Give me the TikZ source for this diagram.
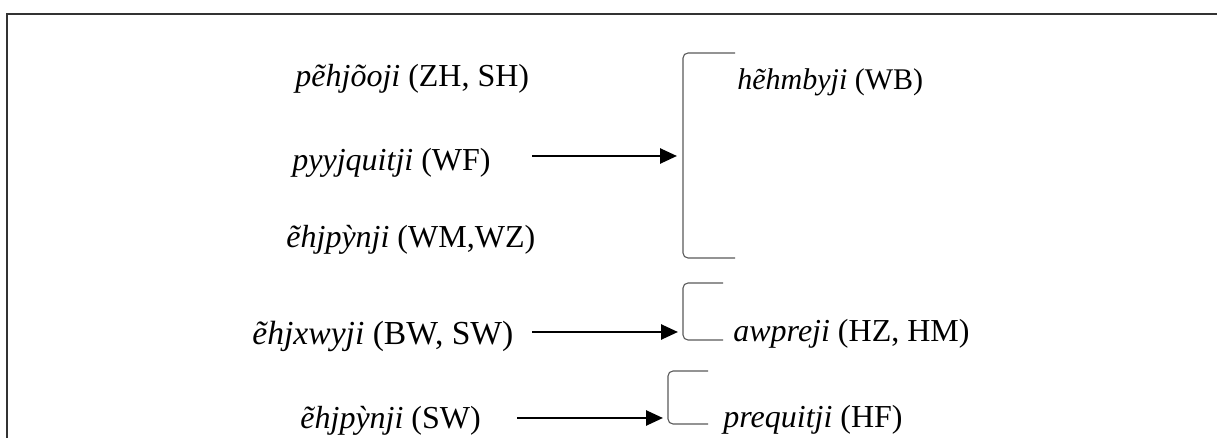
\documentclass[tikz,border=0pt]{standalone}
\usepackage{fontspec}
\setmainfont{Liberation Serif}
\usepackage{tikz}
\usetikzlibrary{positioning,arrows.meta}
\tikzset{
  >={Triangle[length=8.5pt,width=7.5pt]},
  term/.style={anchor=base west,inner sep=0pt,font=\fontsize{16}{19}\selectfont},
  maparr/.style={->,line width=1.3pt,black},
  brk/.style={line width=0.55pt,black!65,rounded corners=2.5pt},
  frameline/.style={line width=1pt,black!80},
}

\begin{document}
\begin{tikzpicture}[x=0.5pt,y=-0.5pt]
  \useasboundingbox (0,0) rectangle (1217,438);
  % frame edges
  \draw[frameline] (7,438) -- (7,14) -- (1217,14);

  % left column
  \node[term] (zh) at (295,87)  {\textit{pẽhjõoji} (ZH, SH)};
  \node[term] (wf) at (292,171) {\textit{pyyjquitji} (WF)};
  \node[term] (wm) at (286,248) {\textit{ẽhjpỳnji} (WM,WZ)};
  \node[term,font=\fontsize{16.8}{20}\selectfont] (bw) at (252,345) {\textit{ẽhjxwyji} (BW, SW)};
  \node[term] (sw) at (300,429) {\textit{ẽhjpỳnji} (SW)};

  % right column
  \node[term,font=\fontsize{15}{18}\selectfont] (wb) at (737,90) {\textit{hẽhmbyji} (WB)};
  \node[term] (hz) at (733,342) {\textit{awpreji} (HZ, HM)};
  \node[term] (hf) at (723,428) {\textit{prequitji} (HF)};

  % brackets
  \draw[brk] (735,53) -- (683,53) -- (683,258) -- (735,258);
  \draw[brk] (723,283) -- (683,283) -- (683,340) -- (723,340);
  \draw[brk] (708,371) -- (668,371) -- (668,424) -- (708,424);

  \coordinate (wfout) at (532,156);
  \coordinate (bwout) at (532,332);
  \coordinate (swout) at (517,418);
  \coordinate (brk1) at (677,156);
  \coordinate (brk2) at (678,332);
  \coordinate (brk3) at (663,418);

  \draw[maparr] (wfout) -- (brk1);
  \draw[maparr] (bwout) -- (brk2);
  \draw[maparr] (swout) -- (brk3);
\end{tikzpicture}
\end{document}
